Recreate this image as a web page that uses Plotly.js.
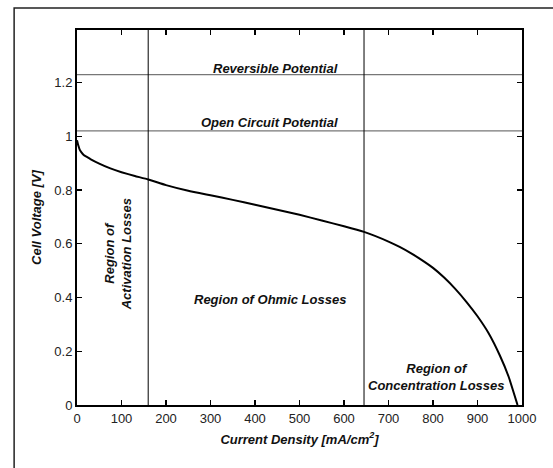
<!DOCTYPE html>
<html>
<head>
<meta charset="utf-8">
<script src="https://cdn.plot.ly/plotly-3.0.1.min.js"></script>
<style>
  html, body { margin: 0; padding: 0; background: #fff; }
  #chart { width: 553px; height: 468px; }
</style>
</head>
<body>
<div id="chart"></div>
<script>
// Polarization curve of a fuel cell: current density (mA/cm^2) vs. cell voltage (V)
const currentDensity = [0, 3, 6, 10, 15, 20, 30, 50, 75, 100, 130, 160, 200, 250, 300, 350,
  400, 450, 500, 550, 600, 645, 700, 725, 750, 775, 800, 825, 850, 875, 900, 925, 950, 970, 990];
const cellVoltage = [0.985, 0.965, 0.95, 0.94, 0.93, 0.925, 0.915, 0.898, 0.880, 0.866, 0.852,
  0.839, 0.818, 0.797, 0.780, 0.763, 0.745, 0.726, 0.708, 0.686, 0.665, 0.644, 0.608, 0.588,
  0.565, 0.539, 0.510, 0.474, 0.432, 0.384, 0.330, 0.267, 0.185, 0.105, 0.0];

// Reference potentials (V)
const potentialNames = ['Reversible Potential', 'Open Circuit Potential'];
const potentialLevels = [1.229, 1.02];

// Boundaries between loss regions (mA/cm^2)
const regionBounds = [160, 645];

// Axis ticks
const xTicks = [0, 100, 200, 300, 400, 500, 600, 700, 800, 900, 1000];
const yTicks = [0, 0.2, 0.4, 0.6, 0.8, 1, 1.2];
const yTickText = ['0', '0.2', '0.4', '0.6', '0.8', '1', '1.2'];

const FONT = 'Liberation Sans, Arial, Helvetica, sans-serif';
const labelFont = { family: FONT, size: 13, color: '#111', weight: 'bold', style: 'italic' };

const traces = [{
  x: currentDensity,
  y: cellVoltage,
  type: 'scatter',
  mode: 'lines',
  line: { color: '#000', width: 2, shape: 'spline', smoothing: 0.4 },
  hoverinfo: 'skip',
  showlegend: false
}];

const shapes = [];
potentialLevels.forEach(v => shapes.push({
  type: 'line', xref: 'paper', yref: 'y', x0: 0, x1: 1, y0: v, y1: v,
  line: { color: '#777', width: 1.2 }, layer: 'below'
}));
regionBounds.forEach(b => shapes.push({
  type: 'line', xref: 'x', yref: 'paper', x0: b, x1: b, y0: 0, y1: 1,
  line: { color: '#000', width: 1 }, layer: 'below'
}));
// Figure frame
shapes.push({
  type: 'rect', xref: 'paper', yref: 'paper',
  x0: -0.1413, x1: 1.1, y0: -0.2, y1: 1.0587,
  line: { color: '#222', width: 1.5 }, fillcolor: 'rgba(0,0,0,0)'
});

const annotations = [
  { x: 591, y: 1.252, text: potentialNames[0], xanchor: 'right' },
  { x: 591, y: 1.051, text: potentialNames[1], xanchor: 'right' },
  { x: 434, y: 0.394, text: 'Region of Ohmic Losses' },
  { x: 94, y: 0.56, text: 'Region of<br>Activation Losses', textangle: -90 },
  { x: 808, y: 0.104, text: 'Region of<br>Concentration Losses' }
].map(a => Object.assign({
  xref: 'x', yref: 'y', showarrow: false, font: labelFont, align: 'center'
}, a));

const axisCommon = {
  showline: true, linecolor: '#000', linewidth: 2, mirror: 'ticks',
  ticks: 'inside', ticklen: 5, tickwidth: 1.2, tickcolor: '#000',
  showgrid: false, zeroline: false,
  tickfont: { family: FONT, size: 13, color: '#222' }
};

const layout = {
  width: 553, height: 468,
  margin: { l: 77, r: 31, t: 30, b: 63 },
  paper_bgcolor: '#fff', plot_bgcolor: '#fff',
  xaxis: Object.assign({}, axisCommon, {
    range: [0, 1000], tickvals: xTicks,
    title: { text: 'Current Density [mA/cm<sup>2</sup>]', font: labelFont, standoff: 10 }
  }),
  yaxis: Object.assign({}, axisCommon, {
    range: [0, 1.395], tickvals: yTicks, ticktext: yTickText,
    title: { text: 'Cell Voltage [V]', font: labelFont, standoff: 10 }
  }),
  shapes: shapes,
  annotations: annotations
};

Plotly.newPlot('chart', traces, layout, { staticPlot: true, displayModeBar: false });
</script>
</body>
</html>
